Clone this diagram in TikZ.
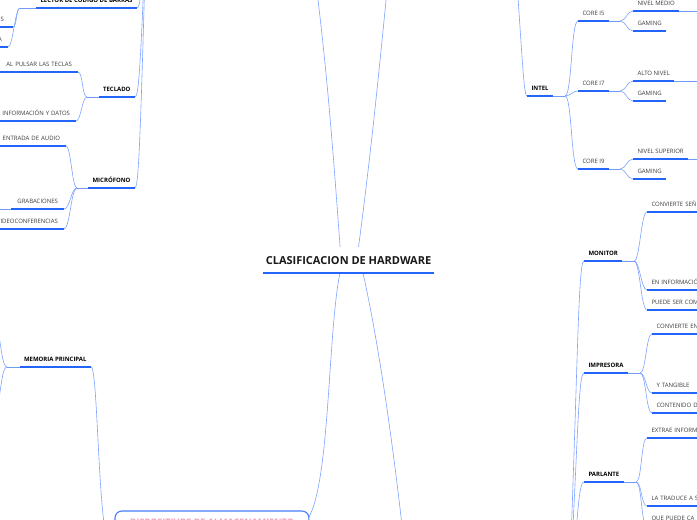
\documentclass[tikz,border=0pt]{standalone}
\usepackage{fontspec}
\setmainfont{Open Sans}
\usetikzlibrary{backgrounds}
\definecolor{uline}{RGB}{35,100,250}
\definecolor{conncol}{RGB}{125,162,255}
\definecolor{leaftext}{RGB}{60,60,60}
\definecolor{boxline}{RGB}{70,125,250}
\definecolor{pinktext}{RGB}{242,160,180}
\begin{document}
\begin{tikzpicture}[x=1pt,y=-1pt,
  every node/.style={outer sep=0pt},
  ulstroke/.style={draw=uline, line width=1.3pt},
  conn/.style={draw=conncol, line width=0.6pt},
  ext/.style={draw=uline!65, line width=0.8pt},
  basenode/.style={inner xsep=4.5pt, inner ysep=5.3pt, text height=4.3pt, text depth=0pt,
    append after command={(\tikzlastnode.south west) edge[ulstroke] (\tikzlastnode.south east)}},
  leaf/.style={basenode, font=\fontsize{6}{7}\selectfont, text=leaftext},
  lleaf/.style={leaf, inner xsep=6pt},
  sub/.style={basenode, font=\fontsize{6}{7}\selectfont\bfseries, text=black},
  rcut/.style={text width=90pt, align=left},
  lcut/.style={text width=90pt, align=right},
  central/.style={inner xsep=3pt, inner ysep=9pt, text height=7.9pt, text depth=0pt, fill=white,
    font=\fontsize{11}{13}\selectfont\bfseries, text=black!90,
    append after command={(\tikzlastnode.south west) edge[draw=uline, line width=1.6pt] (\tikzlastnode.south east)}},
  mainbox/.style={draw=boxline, line width=1.1pt, rounded corners=7pt, fill=white, text=pinktext,
    font=\fontsize{9}{11}\selectfont\bfseries, inner xsep=15pt, inner ysep=7pt, text height=7.9pt, text depth=20pt}
]
\useasboundingbox (0,0) rectangle (697,520);

% central topic
\node[central, anchor=south] (root) at (348.5,273) {CLASIFICACION DE HARDWARE};

% bottom main topic box
\node[mainbox, anchor=north west] (storage) at (115,511) {DISPOSITIVOS DE ALMACENAMIENTO};

% off-canvas parents
\coordinate (inboxR) at (310,-60);
\coordinate (inboxL) at (147,-100);
\coordinate (procboxL) at (392,-60);
\coordinate (procboxR) at (512,-80);
\coordinate (outboxL) at (410,600);
\coordinate (outboxR) at (568,620);

% left: input devices
\node[sub, anchor=south east] (lector) at (137,8) {LECTOR DE CODIGO DE BARRAS};
\coordinate (lectorfork) at (20,8);
\node[lleaf, lcut, inner xsep=9pt, anchor=south east] (lec1) at (13,27) {S};
\node[lleaf, lcut, anchor=south east] (lec2) at (8,47) {A};

\node[sub, anchor=south east] (teclado) at (135,97) {TECLADO};
\coordinate (tecfork) at (87,97);
\node[lleaf, lcut, anchor=south east] (tec1) at (78,72) {AL PULSAR LAS TECLAS};
\node[lleaf, lcut, anchor=south east] (tec2) at (76,121) {INFORMACIÓN Y DATOS};

\node[sub, anchor=south east] (micro) at (135,188) {MICRÓFONO};
\coordinate (micfork) at (77,188);
\node[lleaf, lcut, anchor=south east] (mic1) at (66,146) {ENTRADA DE AUDIO};
\node[lleaf, anchor=south east] (mic2) at (64,209) {GRABACIONES};
\coordinate (mic2x) at (-10,209);
\node[lleaf, lcut, anchor=south east] (mic3) at (64,229) {VIDEOCONFERENCIAS};

% left: memory
\node[sub, anchor=south east] (memoria) at (91,367) {MEMORIA PRINCIPAL};
\coordinate (memfork) at (7,367);
\coordinate (mem1) at (-6,300);
\coordinate (mem2) at (-6,434);

% right: processor
\node[sub, anchor=south west] (intel) at (527,96) {INTEL};
\coordinate (intelfork) at (565,96);
\node[leaf, anchor=south west] (core5) at (578,21) {CORE I5};
\coordinate (c5fork) at (620,21);
\node[leaf, anchor=south west] (c5a) at (633,11) {NIVEL MEDIO};
\coordinate (c5ax) at (710,11);
\node[leaf, anchor=south west] (c5b) at (633,31) {GAMING};
\node[leaf, anchor=south west] (core7) at (578,91) {CORE I7};
\coordinate (c7fork) at (620,91);
\node[leaf, anchor=south west] (c7a) at (633,81) {ALTO NIVEL};
\coordinate (c7ax) at (710,81);
\node[leaf, anchor=south west] (c7b) at (633,101) {GAMING};
\node[leaf, anchor=south west] (core9) at (578,169) {CORE I9};
\coordinate (c9fork) at (620,169);
\node[leaf, anchor=south west] (c9a) at (633,159) {NIVEL SUPERIOR};
\coordinate (c9ax) at (710,159);
\node[leaf, anchor=south west] (c9b) at (633,179) {GAMING};

% right: output devices
\node[sub, anchor=south west] (monitor) at (584,261) {MONITOR};
\coordinate (monfork) at (634,261);
\node[leaf, rcut, anchor=south west] (mon1) at (647,212) {CONVIERTE SEÑ};
\node[leaf, rcut, anchor=south west] (mon2) at (647,290) {EN INFORMACIÓ};
\node[leaf, rcut, anchor=south west] (mon3) at (647,310) {PUEDE SER COM};

\node[sub, anchor=south west] (impresora) at (584,373) {IMPRESORA};
\coordinate (impfork) at (640,373);
\node[leaf, rcut, anchor=south west] (imp1) at (652,334) {CONVIERTE EN};
\node[leaf, rcut, anchor=south west] (imp2) at (652,393) {Y TANGIBLE};
\node[leaf, rcut, anchor=south west] (imp3) at (652,413) {CONTENIDO D};

\node[sub, anchor=south west] (parlante) at (584,482) {PARLANTE};
\coordinate (parfork) at (636,482);
\node[leaf, rcut, anchor=south west] (par1) at (647,438) {EXTRAE INFORM};
\node[leaf, rcut, anchor=south west] (par2) at (647,506) {LA TRADUCE A S};
\node[leaf, rcut, anchor=south west] (par3) at (647,526) {QUE PUEDE CA};

\begin{scope}[on background layer]
% central connectors
\draw[conn] ([xshift=-6.5pt]root.south) .. controls (333,150) and (326,50) .. (inboxR);
\draw[conn] ([xshift=6.5pt]root.south) .. controls (372,150) and (381,50) .. (procboxL);
\draw[conn] ([xshift=-8.5pt]root.south) .. controls (328,330) and (330,480) .. ([yshift=-6pt]storage.north east);
\draw[conn] ([xshift=14.5pt]root.south) .. controls (378,340) and (395,450) .. (outboxL);

% input trunk
\draw[conn] (lector.south east) .. controls (141,8) and (142,-20) .. (inboxL);
\draw[conn] (teclado.south east) .. controls (139,97) and (141,60) .. (inboxL);
\draw[conn] (micro.south east) .. controls (139,188) and (141,120) .. (inboxL);

\draw[ext] (lector.south west) -- (lectorfork);
\draw[conn] (lectorfork) .. controls (16,8) and (17,27) .. (lec1.south east);
\draw[conn] (lectorfork) .. controls (15,8) and (13,47) .. (lec2.south east);

\draw[ext] (teclado.south west) -- (tecfork);
\draw[conn] (tecfork) .. controls (82,97) and (83,72) .. (tec1.south east);
\draw[conn] (tecfork) .. controls (82,97) and (81,121) .. (tec2.south east);

\draw[ext] (micro.south west) -- (micfork);
\draw[conn] (micfork) .. controls (72,188) and (71,146) .. (mic1.south east);
\draw[conn] (micfork) .. controls (71,188) and (70,209) .. (mic2.south east);
\draw[conn] (micfork) .. controls (71,188) and (70,229) .. (mic3.south east);
\draw[ext] (mic2.south west) -- (mic2x);

% memory
\draw[conn] (memoria.south east) .. controls (99,367) and (97,560) .. ([yshift=-49pt]storage.north west);
\draw[ext] (memoria.south west) -- (memfork);
\draw[conn] (memfork) .. controls (2,367) and (1,345) .. (mem1);
\draw[conn] (memfork) .. controls (2,367) and (1,389) .. (mem2);

% processor
\draw[conn] (intel.south west) .. controls (523,96) and (522,40) .. (procboxR);
\draw[ext] (intel.south east) -- (intelfork);
\draw[conn] (intelfork) .. controls (572,96) and (571,21) .. (core5.south west);
\draw[conn] (intelfork) .. controls (571,96) and (572,91) .. (core7.south west);
\draw[conn] (intelfork) .. controls (572,96) and (571,169) .. (core9.south west);

\draw[ext] (core5.south east) -- (c5fork);
\draw[conn] (c5fork) .. controls (626,21) and (627,11) .. (c5a.south west);
\draw[conn] (c5fork) .. controls (626,21) and (627,31) .. (c5b.south west);
\draw[ext] (c5a.south east) -- (c5ax);

\draw[ext] (core7.south east) -- (c7fork);
\draw[conn] (c7fork) .. controls (626,91) and (627,81) .. (c7a.south west);
\draw[conn] (c7fork) .. controls (626,91) and (627,101) .. (c7b.south west);
\draw[ext] (c7a.south east) -- (c7ax);

\draw[ext] (core9.south east) -- (c9fork);
\draw[conn] (c9fork) .. controls (626,169) and (627,159) .. (c9a.south west);
\draw[conn] (c9fork) .. controls (626,169) and (627,179) .. (c9b.south west);
\draw[ext] (c9a.south east) -- (c9ax);

% output
\draw[conn] (monitor.south west) .. controls (578,261) and (578,368) .. (outboxR);
\draw[conn] (impresora.south west) .. controls (578,373) and (578,447) .. (outboxR);
\draw[conn] (parlante.south west) .. controls (578,482) and (578,523) .. (outboxR);

\draw[ext] (monitor.south east) -- (monfork);
\draw[conn] (monfork) .. controls (640,261) and (641,212) .. (mon1.south west);
\draw[conn] (monfork) .. controls (640,261) and (641,290) .. (mon2.south west);
\draw[conn] (monfork) .. controls (640,261) and (641,310) .. (mon3.south west);

\draw[ext] (impresora.south east) -- (impfork);
\draw[conn] (impfork) .. controls (646,373) and (646,334) .. (imp1.south west);
\draw[conn] (impfork) .. controls (646,373) and (646,393) .. (imp2.south west);
\draw[conn] (impfork) .. controls (646,373) and (646,413) .. (imp3.south west);

\draw[ext] (parlante.south east) -- (parfork);
\draw[conn] (parfork) .. controls (642,482) and (641,438) .. (par1.south west);
\draw[conn] (parfork) .. controls (642,482) and (641,506) .. (par2.south west);
\draw[conn] (parfork) .. controls (642,482) and (641,526) .. (par3.south west);
\end{scope}
\end{tikzpicture}
\end{document}
